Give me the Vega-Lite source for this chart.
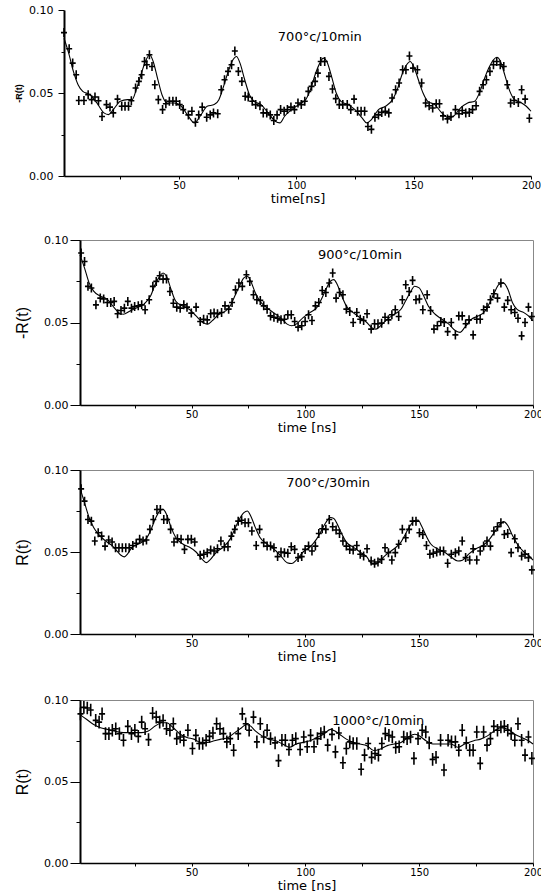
{
  "$schema": "https://vega.github.io/schema/vega-lite/v6.json",
  "background": "white",
  "padding": {"left": 14, "top": 4, "right": 0, "bottom": 0},
  "columns": 1,
  "align": "all",
  "spacing": 28,
  "config": {
    "view": {"stroke": "#666", "strokeWidth": 1},
    "axis": {"grid": false, "domainColor": "black", "tickColor": "black", "labelColor": "black", "titleColor": "black", "labelFont": "DejaVu Sans", "titleFont": "DejaVu Sans", "titleFontWeight": "normal", "labelFlush": false, "labelOverlap": false, "tickWidth": 1}
  },
  "datasets": {
    "p1": [{"t":1,"r":0.0864},{"t":3.2,"r":0.0767},{"t":4.7,"r":0.068},{"t":6.2,"r":0.061},{"t":7.3,"r":0.0455},{"t":9.5,"r":0.0455},{"t":11.3,"r":0.049},{"t":12.8,"r":0.046},{"t":14.2,"r":0.0476},{"t":15.7,"r":0.0453},{"t":17.2,"r":0.0358},{"t":19.1,"r":0.043},{"t":20.6,"r":0.0415},{"t":22,"r":0.038},{"t":23.8,"r":0.0463},{"t":25.6,"r":0.042},{"t":27,"r":0.042},{"t":28.5,"r":0.042},{"t":29.7,"r":0.0453},{"t":31.5,"r":0.053},{"t":32.9,"r":0.057},{"t":34.1,"r":0.061},{"t":35.3,"r":0.069},{"t":36.3,"r":0.067},{"t":37.4,"r":0.073},{"t":38.5,"r":0.066},{"t":39.7,"r":0.055},{"t":41.2,"r":0.046},{"t":43,"r":0.040},{"t":44.4,"r":0.0435},{"t":45.9,"r":0.045},{"t":47.4,"r":0.045},{"t":48.8,"r":0.045},{"t":50.3,"r":0.043},{"t":51.8,"r":0.040},{"t":54,"r":0.0368},{"t":55.5,"r":0.039},{"t":57,"r":0.0324},{"t":58.4,"r":0.0368},{"t":59.9,"r":0.0415},{"t":61.8,"r":0.0354},{"t":63.3,"r":0.0368},{"t":64.7,"r":0.038},{"t":66.5,"r":0.0375},{"t":68,"r":0.052},{"t":69.4,"r":0.058},{"t":70.9,"r":0.063},{"t":72.4,"r":0.067},{"t":73.8,"r":0.0753},{"t":75.3,"r":0.063},{"t":76.8,"r":0.057},{"t":78.2,"r":0.048},{"t":79.5,"r":0.0476},{"t":81.2,"r":0.045},{"t":82.7,"r":0.043},{"t":84.5,"r":0.0423},{"t":85.9,"r":0.038},{"t":87.4,"r":0.038},{"t":88.9,"r":0.0368},{"t":90.4,"r":0.0334},{"t":91.8,"r":0.0368},{"t":93.3,"r":0.040},{"t":94.8,"r":0.039},{"t":96.2,"r":0.040},{"t":97.7,"r":0.0415},{"t":99.2,"r":0.040},{"t":100.7,"r":0.044},{"t":102.1,"r":0.043},{"t":103.6,"r":0.045},{"t":105.1,"r":0.051},{"t":106.5,"r":0.054},{"t":108,"r":0.057},{"t":109.2,"r":0.062},{"t":110.4,"r":0.069},{"t":112.1,"r":0.069},{"t":113.9,"r":0.060},{"t":115.4,"r":0.0524},{"t":116.8,"r":0.0466},{"t":118.3,"r":0.043},{"t":119.8,"r":0.043},{"t":121.7,"r":0.043},{"t":123.2,"r":0.040},{"t":124.6,"r":0.0463},{"t":126.1,"r":0.039},{"t":127.6,"r":0.039},{"t":129.1,"r":0.039},{"t":130.5,"r":0.0298},{"t":132,"r":0.0281},{"t":133.5,"r":0.0354},{"t":135,"r":0.0368},{"t":136.4,"r":0.0383},{"t":137.9,"r":0.039},{"t":139.4,"r":0.038},{"t":140.8,"r":0.047},{"t":142.3,"r":0.052},{"t":143.8,"r":0.056},{"t":145.3,"r":0.064},{"t":146.7,"r":0.064},{"t":148.2,"r":0.0723},{"t":149.7,"r":0.065},{"t":151.6,"r":0.064},{"t":153.4,"r":0.056},{"t":155.1,"r":0.044},{"t":156.6,"r":0.0423},{"t":158.1,"r":0.041},{"t":159.6,"r":0.0435},{"t":161,"r":0.0435},{"t":162.5,"r":0.0362},{"t":164.4,"r":0.0344},{"t":165.9,"r":0.0358},{"t":167.8,"r":0.040},{"t":169.3,"r":0.0375},{"t":170.7,"r":0.0395},{"t":172.2,"r":0.038},{"t":173.7,"r":0.0383},{"t":175.1,"r":0.040},{"t":176.6,"r":0.0423},{"t":178.1,"r":0.051},{"t":179.6,"r":0.055},{"t":181,"r":0.058},{"t":182.5,"r":0.063},{"t":184,"r":0.067},{"t":185.4,"r":0.069},{"t":186.9,"r":0.067},{"t":188.4,"r":0.066},{"t":189.9,"r":0.055},{"t":191.3,"r":0.044},{"t":192.8,"r":0.0455},{"t":194.6,"r":0.0443},{"t":196,"r":0.052},{"t":197.5,"r":0.0463},{"t":199.3,"r":0.0348}],
    "f1": [{"t":1,"r":0.083},{"t":3,"r":0.074},{"t":5,"r":0.063},{"t":7,"r":0.055},{"t":9,"r":0.051},{"t":12,"r":0.049},{"t":15,"r":0.044},{"t":18,"r":0.038},{"t":20,"r":0.037},{"t":22,"r":0.040},{"t":25,"r":0.045},{"t":28,"r":0.046},{"t":30,"r":0.046},{"t":32,"r":0.053},{"t":34,"r":0.062},{"t":36,"r":0.070},{"t":37.5,"r":0.073},{"t":39,"r":0.069},{"t":41,"r":0.058},{"t":43,"r":0.048},{"t":45,"r":0.044},{"t":48,"r":0.044},{"t":51,"r":0.042},{"t":54,"r":0.036},{"t":56.5,"r":0.032},{"t":59,"r":0.036},{"t":62,"r":0.042},{"t":65,"r":0.043},{"t":67,"r":0.046},{"t":69,"r":0.054},{"t":71,"r":0.063},{"t":73,"r":0.070},{"t":74.5,"r":0.072},{"t":76,"r":0.068},{"t":78,"r":0.058},{"t":80,"r":0.049},{"t":82,"r":0.045},{"t":85,"r":0.043},{"t":88,"r":0.038},{"t":91,"r":0.033},{"t":93,"r":0.032},{"t":95,"r":0.036},{"t":98,"r":0.040},{"t":101,"r":0.043},{"t":104,"r":0.046},{"t":106,"r":0.052},{"t":108,"r":0.061},{"t":110,"r":0.068},{"t":111.5,"r":0.071},{"t":113,"r":0.069},{"t":115,"r":0.060},{"t":117,"r":0.050},{"t":119,"r":0.045},{"t":122,"r":0.043},{"t":125,"r":0.040},{"t":128,"r":0.035},{"t":130,"r":0.032},{"t":132,"r":0.034},{"t":135,"r":0.040},{"t":138,"r":0.042},{"t":141,"r":0.046},{"t":143,"r":0.052},{"t":145,"r":0.061},{"t":147,"r":0.067},{"t":148.5,"r":0.069},{"t":150,"r":0.066},{"t":152,"r":0.058},{"t":154,"r":0.050},{"t":156,"r":0.045},{"t":159,"r":0.043},{"t":162,"r":0.038},{"t":165,"r":0.035},{"t":167,"r":0.036},{"t":170,"r":0.041},{"t":173,"r":0.044},{"t":176,"r":0.045},{"t":178,"r":0.050},{"t":180,"r":0.058},{"t":182,"r":0.065},{"t":184,"r":0.070},{"t":185.5,"r":0.0715},{"t":187,"r":0.069},{"t":189,"r":0.060},{"t":191,"r":0.051},{"t":193,"r":0.046},{"t":196,"r":0.044},{"t":198,"r":0.042},{"t":200,"r":0.039}],
    "p2": [{"t":1.5,"r":0.0921},{"t":3,"r":0.087},{"t":4.5,"r":0.0719},{"t":6,"r":0.0709},{"t":8,"r":0.0607},{"t":9.9,"r":0.0648},{"t":11.4,"r":0.0642},{"t":13,"r":0.0621},{"t":14.5,"r":0.0621},{"t":16,"r":0.0628},{"t":17.5,"r":0.0553},{"t":19,"r":0.0573},{"t":20.5,"r":0.0587},{"t":22,"r":0.0628},{"t":23.6,"r":0.0587},{"t":25,"r":0.0597},{"t":26.6,"r":0.0601},{"t":28.1,"r":0.0607},{"t":29.6,"r":0.0577},{"t":31.4,"r":0.0638},{"t":33,"r":0.0719},{"t":34.5,"r":0.0749},{"t":36,"r":0.0783},{"t":37.5,"r":0.0763},{"t":39,"r":0.0763},{"t":40.5,"r":0.0688},{"t":42,"r":0.0617},{"t":43.5,"r":0.0593},{"t":45,"r":0.0587},{"t":46.6,"r":0.0607},{"t":48,"r":0.0593},{"t":49.9,"r":0.0557},{"t":52,"r":0.0593},{"t":53.8,"r":0.0506},{"t":55.3,"r":0.052},{"t":56.9,"r":0.0516},{"t":58.4,"r":0.0553},{"t":59.9,"r":0.0557},{"t":61.4,"r":0.0553},{"t":63.2,"r":0.0561},{"t":64.7,"r":0.0601},{"t":66.3,"r":0.0581},{"t":67.8,"r":0.0621},{"t":69.3,"r":0.0698},{"t":70.8,"r":0.0739},{"t":72.3,"r":0.0719},{"t":74.1,"r":0.0789},{"t":75.6,"r":0.0749},{"t":77.2,"r":0.0668},{"t":78.7,"r":0.0638},{"t":80.2,"r":0.0634},{"t":81.7,"r":0.0601},{"t":83.2,"r":0.0581},{"t":84.7,"r":0.054},{"t":86.2,"r":0.0532},{"t":87.8,"r":0.0526},{"t":89.3,"r":0.0516},{"t":90.8,"r":0.052},{"t":92.3,"r":0.0547},{"t":93.8,"r":0.0547},{"t":95.3,"r":0.0506},{"t":96.8,"r":0.0472},{"t":98.4,"r":0.048},{"t":99.9,"r":0.0506},{"t":101.4,"r":0.0547},{"t":102.9,"r":0.0512},{"t":104.4,"r":0.0601},{"t":105.9,"r":0.0621},{"t":107.4,"r":0.0694},{"t":109,"r":0.0682},{"t":110.5,"r":0.0739},{"t":112,"r":0.08},{"t":113.5,"r":0.0648},{"t":115,"r":0.0682},{"t":116.5,"r":0.0668},{"t":118,"r":0.0581},{"t":119.5,"r":0.0567},{"t":121,"r":0.05},{"t":122.6,"r":0.0561},{"t":124.1,"r":0.052},{"t":125.6,"r":0.0512},{"t":127.1,"r":0.0553},{"t":128.9,"r":0.046},{"t":130.4,"r":0.0492},{"t":131.9,"r":0.0492},{"t":133.5,"r":0.0496},{"t":135,"r":0.0532},{"t":136.5,"r":0.0516},{"t":138,"r":0.0547},{"t":139.5,"r":0.0577},{"t":141,"r":0.0536},{"t":142.6,"r":0.0638},{"t":144.1,"r":0.0729},{"t":145.6,"r":0.0688},{"t":147.1,"r":0.0755},{"t":148.6,"r":0.0638},{"t":150.1,"r":0.0642},{"t":151.6,"r":0.0577},{"t":153.5,"r":0.0668},{"t":155,"r":0.0573},{"t":156.5,"r":0.046},{"t":158,"r":0.048},{"t":159.5,"r":0.0506},{"t":161,"r":0.05},{"t":162.5,"r":0.0445},{"t":164.1,"r":0.05},{"t":165.9,"r":0.0425},{"t":167.4,"r":0.054},{"t":168.9,"r":0.054},{"t":170.4,"r":0.0492},{"t":171.9,"r":0.0516},{"t":173.7,"r":0.0425},{"t":175.3,"r":0.052},{"t":176.8,"r":0.052},{"t":178.3,"r":0.0577},{"t":179.8,"r":0.0593},{"t":181.3,"r":0.0638},{"t":182.8,"r":0.0674},{"t":184.4,"r":0.0648},{"t":185.9,"r":0.0739},{"t":187.4,"r":0.0593},{"t":188.9,"r":0.0634},{"t":190.4,"r":0.0577},{"t":192,"r":0.0561},{"t":193.4,"r":0.0526},{"t":195,"r":0.0419},{"t":196.5,"r":0.05},{"t":198,"r":0.0593},{"t":199.5,"r":0.0536}],
    "f2": [{"t":1,"r":0.091},{"t":3,"r":0.083},{"t":5,"r":0.074},{"t":7,"r":0.069},{"t":10,"r":0.066},{"t":13,"r":0.064},{"t":16,"r":0.059},{"t":18,"r":0.056},{"t":20,"r":0.055},{"t":23,"r":0.057},{"t":26,"r":0.059},{"t":29,"r":0.061},{"t":32,"r":0.066},{"t":34,"r":0.073},{"t":36,"r":0.078},{"t":37.5,"r":0.080},{"t":39,"r":0.078},{"t":41,"r":0.070},{"t":43,"r":0.063},{"t":46,"r":0.060},{"t":49,"r":0.058},{"t":52,"r":0.054},{"t":55,"r":0.050},{"t":57,"r":0.049},{"t":59,"r":0.051},{"t":62,"r":0.055},{"t":65,"r":0.057},{"t":67,"r":0.060},{"t":69,"r":0.066},{"t":71,"r":0.072},{"t":73,"r":0.077},{"t":74.5,"r":0.078},{"t":76,"r":0.075},{"t":78,"r":0.068},{"t":80,"r":0.063},{"t":83,"r":0.059},{"t":86,"r":0.056},{"t":89,"r":0.053},{"t":92,"r":0.049},{"t":94,"r":0.048},{"t":96,"r":0.049},{"t":99,"r":0.053},{"t":102,"r":0.056},{"t":105,"r":0.059},{"t":107,"r":0.064},{"t":109,"r":0.070},{"t":111,"r":0.075},{"t":112.5,"r":0.076},{"t":114,"r":0.073},{"t":116,"r":0.066},{"t":118,"r":0.060},{"t":121,"r":0.056},{"t":124,"r":0.053},{"t":127,"r":0.050},{"t":129,"r":0.047},{"t":131,"r":0.046},{"t":133,"r":0.048},{"t":136,"r":0.052},{"t":139,"r":0.055},{"t":142,"r":0.058},{"t":144,"r":0.063},{"t":146,"r":0.068},{"t":148,"r":0.072},{"t":150,"r":0.071},{"t":152,"r":0.066},{"t":154,"r":0.060},{"t":157,"r":0.055},{"t":160,"r":0.052},{"t":163,"r":0.049},{"t":166,"r":0.045},{"t":168,"r":0.044},{"t":170,"r":0.047},{"t":173,"r":0.052},{"t":176,"r":0.054},{"t":179,"r":0.057},{"t":181,"r":0.062},{"t":183,"r":0.068},{"t":185,"r":0.073},{"t":187,"r":0.074},{"t":189,"r":0.070},{"t":191,"r":0.062},{"t":193,"r":0.058},{"t":196,"r":0.056},{"t":198,"r":0.054},{"t":200,"r":0.051}],
    "p3": [{"t":1.5,"r":0.0885},{"t":3,"r":0.081},{"t":4.5,"r":0.0698},{"t":6,"r":0.0688},{"t":7.5,"r":0.0567},{"t":9,"r":0.0617},{"t":10.5,"r":0.0597},{"t":12,"r":0.0536},{"t":13.6,"r":0.0573},{"t":15.1,"r":0.0561},{"t":16.6,"r":0.0526},{"t":18.1,"r":0.0526},{"t":19.6,"r":0.0526},{"t":21.1,"r":0.0526},{"t":22.6,"r":0.0526},{"t":24.2,"r":0.054},{"t":25.7,"r":0.0553},{"t":27.2,"r":0.0577},{"t":28.7,"r":0.0567},{"t":30.2,"r":0.0573},{"t":31.7,"r":0.0638},{"t":33.2,"r":0.0698},{"t":34.8,"r":0.0759},{"t":36.3,"r":0.0759},{"t":37.8,"r":0.0698},{"t":39.3,"r":0.0698},{"t":40.8,"r":0.0638},{"t":42.3,"r":0.0561},{"t":43.8,"r":0.0581},{"t":45.4,"r":0.0577},{"t":46.9,"r":0.0516},{"t":48.4,"r":0.0577},{"t":49.9,"r":0.0577},{"t":51.4,"r":0.0561},{"t":53.8,"r":0.048},{"t":55.4,"r":0.0486},{"t":56.9,"r":0.0496},{"t":58.4,"r":0.0512},{"t":59.9,"r":0.0506},{"t":61.4,"r":0.052},{"t":62.9,"r":0.0567},{"t":64.4,"r":0.0532},{"t":66,"r":0.0532},{"t":67.5,"r":0.0597},{"t":69,"r":0.0638},{"t":70.5,"r":0.0688},{"t":72,"r":0.0694},{"t":73.5,"r":0.0678},{"t":75,"r":0.0678},{"t":76.5,"r":0.0628},{"t":78.4,"r":0.054},{"t":79.9,"r":0.0638},{"t":81.7,"r":0.0557},{"t":83.2,"r":0.0536},{"t":84.7,"r":0.0536},{"t":86.2,"r":0.0526},{"t":87.8,"r":0.0472},{"t":89.3,"r":0.05},{"t":90.8,"r":0.0496},{"t":92.3,"r":0.0492},{"t":93.8,"r":0.0532},{"t":95.3,"r":0.0516},{"t":96.8,"r":0.0466},{"t":98.4,"r":0.0472},{"t":99.9,"r":0.0516},{"t":101.4,"r":0.0536},{"t":102.9,"r":0.0506},{"t":104.4,"r":0.0536},{"t":105.9,"r":0.0613},{"t":107.4,"r":0.0642},{"t":109,"r":0.0638},{"t":110.5,"r":0.0698},{"t":112,"r":0.0654},{"t":113.5,"r":0.0634},{"t":115,"r":0.0613},{"t":116.5,"r":0.0567},{"t":118,"r":0.0536},{"t":119.5,"r":0.0516},{"t":121,"r":0.0512},{"t":122.6,"r":0.054},{"t":124.1,"r":0.0486},{"t":125.6,"r":0.0476},{"t":127.1,"r":0.052},{"t":128.9,"r":0.0445},{"t":130.4,"r":0.0431},{"t":131.9,"r":0.0439},{"t":133.5,"r":0.0455},{"t":135,"r":0.0526},{"t":136.5,"r":0.0496},{"t":138,"r":0.0451},{"t":139.5,"r":0.0496},{"t":141,"r":0.0547},{"t":142.6,"r":0.0638},{"t":144.1,"r":0.0587},{"t":145.6,"r":0.0638},{"t":147.1,"r":0.0688},{"t":148.6,"r":0.0688},{"t":150.1,"r":0.0617},{"t":151.6,"r":0.0607},{"t":153.2,"r":0.054},{"t":154.7,"r":0.0486},{"t":156.2,"r":0.0492},{"t":157.7,"r":0.05},{"t":159.2,"r":0.0506},{"t":160.7,"r":0.0506},{"t":162.5,"r":0.0431},{"t":164.1,"r":0.0486},{"t":165.9,"r":0.0496},{"t":167.4,"r":0.0506},{"t":168.9,"r":0.0567},{"t":170.4,"r":0.0466},{"t":172.2,"r":0.0451},{"t":173.7,"r":0.052},{"t":175.3,"r":0.0451},{"t":176.8,"r":0.0506},{"t":178.3,"r":0.0536},{"t":179.8,"r":0.0567},{"t":181.3,"r":0.0536},{"t":182.8,"r":0.0628},{"t":184.4,"r":0.0654},{"t":185.9,"r":0.0678},{"t":187.4,"r":0.0607},{"t":188.9,"r":0.0613},{"t":190.4,"r":0.0496},{"t":192,"r":0.0581},{"t":193.4,"r":0.0526},{"t":195,"r":0.0476},{"t":196.5,"r":0.0486},{"t":198,"r":0.0466},{"t":199.5,"r":0.0391}],
    "f3": [{"t":1,"r":0.089},{"t":3,"r":0.080},{"t":5,"r":0.071},{"t":7,"r":0.065},{"t":9,"r":0.061},{"t":12,"r":0.057},{"t":15,"r":0.054},{"t":17,"r":0.051},{"t":19,"r":0.048},{"t":20.5,"r":0.047},{"t":22,"r":0.049},{"t":24,"r":0.053},{"t":27,"r":0.055},{"t":30,"r":0.058},{"t":32,"r":0.063},{"t":34,"r":0.070},{"t":36,"r":0.075},{"t":37.5,"r":0.076},{"t":39,"r":0.073},{"t":41,"r":0.065},{"t":43,"r":0.059},{"t":46,"r":0.055},{"t":49,"r":0.053},{"t":52,"r":0.050},{"t":55,"r":0.045},{"t":56.5,"r":0.0435},{"t":58,"r":0.045},{"t":61,"r":0.050},{"t":64,"r":0.053},{"t":67,"r":0.058},{"t":69,"r":0.064},{"t":71,"r":0.070},{"t":73,"r":0.074},{"t":74.5,"r":0.075},{"t":76,"r":0.072},{"t":78,"r":0.065},{"t":80,"r":0.059},{"t":83,"r":0.055},{"t":86,"r":0.052},{"t":89,"r":0.048},{"t":92,"r":0.0435},{"t":94,"r":0.043},{"t":96,"r":0.045},{"t":99,"r":0.050},{"t":102,"r":0.053},{"t":105,"r":0.058},{"t":107,"r":0.063},{"t":109,"r":0.068},{"t":111,"r":0.071},{"t":112.5,"r":0.0705},{"t":114,"r":0.067},{"t":116,"r":0.061},{"t":118,"r":0.056},{"t":121,"r":0.053},{"t":124,"r":0.050},{"t":127,"r":0.047},{"t":129.5,"r":0.0425},{"t":131,"r":0.0425},{"t":133,"r":0.045},{"t":136,"r":0.049},{"t":139,"r":0.052},{"t":142,"r":0.056},{"t":144,"r":0.061},{"t":146,"r":0.066},{"t":148,"r":0.069},{"t":149.5,"r":0.0695},{"t":151,"r":0.066},{"t":153,"r":0.060},{"t":155,"r":0.055},{"t":158,"r":0.052},{"t":161,"r":0.050},{"t":164,"r":0.047},{"t":167,"r":0.0445},{"t":169,"r":0.045},{"t":172,"r":0.049},{"t":175,"r":0.052},{"t":178,"r":0.054},{"t":181,"r":0.058},{"t":183,"r":0.062},{"t":185,"r":0.066},{"t":187,"r":0.0685},{"t":189,"r":0.066},{"t":191,"r":0.060},{"t":193,"r":0.055},{"t":196,"r":0.050},{"t":198,"r":0.048},{"t":200,"r":0.045}],
    "p4": [{"t":1.2,"r":0.0915},{"t":2.7,"r":0.0955},{"t":4.2,"r":0.0951},{"t":5.7,"r":0.0939},{"t":7.9,"r":0.0875},{"t":9.4,"r":0.0864},{"t":10.7,"r":0.0915},{"t":12.2,"r":0.0794},{"t":13.7,"r":0.0794},{"t":15.2,"r":0.0814},{"t":16.7,"r":0.0824},{"t":18.3,"r":0.0794},{"t":20.1,"r":0.0753},{"t":22,"r":0.0838},{"t":23.6,"r":0.0794},{"t":25.1,"r":0.0814},{"t":26.6,"r":0.0777},{"t":28.1,"r":0.0864},{"t":29.6,"r":0.0824},{"t":31.1,"r":0.0757},{"t":32.9,"r":0.0919},{"t":34.5,"r":0.0895},{"t":36,"r":0.0864},{"t":37.5,"r":0.0874},{"t":39,"r":0.0824},{"t":40.5,"r":0.0814},{"t":42,"r":0.0854},{"t":43.5,"r":0.0763},{"t":45,"r":0.0773},{"t":46.6,"r":0.0753},{"t":48.4,"r":0.0814},{"t":50.4,"r":0.0702},{"t":51.9,"r":0.0783},{"t":53.4,"r":0.0733},{"t":54.9,"r":0.0733},{"t":56.4,"r":0.0753},{"t":57.9,"r":0.0777},{"t":59.4,"r":0.0798},{"t":61,"r":0.0854},{"t":62.5,"r":0.0824},{"t":64,"r":0.0794},{"t":65.5,"r":0.0743},{"t":67,"r":0.0763},{"t":68.5,"r":0.0692},{"t":70.5,"r":0.0794},{"t":72.3,"r":0.0915},{"t":73.8,"r":0.0854},{"t":75.3,"r":0.0814},{"t":77.2,"r":0.0895},{"t":78.7,"r":0.0743},{"t":80.2,"r":0.0854},{"t":81.7,"r":0.0773},{"t":83.2,"r":0.0814},{"t":84.7,"r":0.0763},{"t":86.7,"r":0.0737},{"t":88.2,"r":0.0628},{"t":89.7,"r":0.0753},{"t":91.2,"r":0.0753},{"t":92.8,"r":0.0696},{"t":94.3,"r":0.0753},{"t":95.8,"r":0.0763},{"t":97.7,"r":0.0696},{"t":99.3,"r":0.0773},{"t":100.8,"r":0.0713},{"t":102.3,"r":0.0783},{"t":103.8,"r":0.0713},{"t":105.3,"r":0.0763},{"t":106.8,"r":0.0794},{"t":108.3,"r":0.0804},{"t":109.8,"r":0.0723},{"t":111.7,"r":0.0789},{"t":113.2,"r":0.0682},{"t":114.7,"r":0.0798},{"t":116.5,"r":0.0615},{"t":118,"r":0.0702},{"t":119.5,"r":0.0743},{"t":121,"r":0.0733},{"t":122.6,"r":0.0733},{"t":124.5,"r":0.0575},{"t":126,"r":0.0662},{"t":127.6,"r":0.0733},{"t":129.1,"r":0.0648},{"t":130.6,"r":0.0672},{"t":132.1,"r":0.0662},{"t":133.6,"r":0.0733},{"t":135.1,"r":0.0794},{"t":136.7,"r":0.0783},{"t":138.2,"r":0.0773},{"t":139.7,"r":0.0709},{"t":141.2,"r":0.0713},{"t":143.2,"r":0.0773},{"t":144.7,"r":0.0763},{"t":146.2,"r":0.0773},{"t":147.7,"r":0.0642},{"t":149.5,"r":0.0763},{"t":151.3,"r":0.0814},{"t":152.9,"r":0.0804},{"t":154.4,"r":0.0737},{"t":155.9,"r":0.0636},{"t":157.4,"r":0.0648},{"t":159.4,"r":0.0753},{"t":160.9,"r":0.0571},{"t":162.7,"r":0.0753},{"t":164.2,"r":0.0743},{"t":165.9,"r":0.0743},{"t":167.4,"r":0.0692},{"t":168.9,"r":0.0814},{"t":170.7,"r":0.0737},{"t":172.2,"r":0.0692},{"t":173.7,"r":0.0692},{"t":175.3,"r":0.0804},{"t":176.8,"r":0.0611},{"t":178.3,"r":0.0804},{"t":179.8,"r":0.0723},{"t":181.3,"r":0.0763},{"t":182.8,"r":0.0838},{"t":184.4,"r":0.0814},{"t":185.9,"r":0.0834},{"t":187.4,"r":0.0838},{"t":188.9,"r":0.0814},{"t":190.4,"r":0.0794},{"t":192,"r":0.0753},{"t":193.4,"r":0.0854},{"t":195,"r":0.0753},{"t":196.5,"r":0.0662},{"t":198,"r":0.0773},{"t":199.5,"r":0.0642}],
    "f4": [{"t":1,"r":0.091},{"t":4,"r":0.088},{"t":7,"r":0.085},{"t":10,"r":0.083},{"t":13,"r":0.082},{"t":16,"r":0.081},{"t":20,"r":0.080},{"t":24,"r":0.080},{"t":28,"r":0.080},{"t":31,"r":0.081},{"t":34,"r":0.084},{"t":37,"r":0.086},{"t":39,"r":0.086},{"t":42,"r":0.083},{"t":45,"r":0.079},{"t":48,"r":0.077},{"t":51,"r":0.076},{"t":54,"r":0.074},{"t":57,"r":0.074},{"t":60,"r":0.075},{"t":63,"r":0.076},{"t":66,"r":0.077},{"t":69,"r":0.080},{"t":72,"r":0.083},{"t":74,"r":0.085},{"t":76,"r":0.084},{"t":78,"r":0.081},{"t":81,"r":0.078},{"t":84,"r":0.076},{"t":87,"r":0.075},{"t":90,"r":0.073},{"t":93,"r":0.071},{"t":96,"r":0.073},{"t":99,"r":0.074},{"t":102,"r":0.075},{"t":105,"r":0.077},{"t":108,"r":0.079},{"t":111,"r":0.082},{"t":113,"r":0.081},{"t":115,"r":0.079},{"t":118,"r":0.076},{"t":121,"r":0.074},{"t":124,"r":0.073},{"t":127,"r":0.072},{"t":130,"r":0.069},{"t":133,"r":0.070},{"t":136,"r":0.072},{"t":139,"r":0.073},{"t":142,"r":0.074},{"t":145,"r":0.077},{"t":148,"r":0.079},{"t":150,"r":0.078},{"t":153,"r":0.075},{"t":156,"r":0.073},{"t":160,"r":0.073},{"t":164,"r":0.073},{"t":167,"r":0.071},{"t":170,"r":0.073},{"t":174,"r":0.075},{"t":177,"r":0.076},{"t":180,"r":0.078},{"t":183,"r":0.081},{"t":186,"r":0.083},{"t":189,"r":0.082},{"t":192,"r":0.079},{"t":195,"r":0.077},{"t":198,"r":0.075},{"t":200,"r":0.073}]
  },
  "concat": [
    {
      "width": 451, "height": 166,
      "view": {"stroke": null},
      "encoding": {
        "x": {"field": "t", "type": "quantitative", "scale": {"domain": [1, 200], "range": [-16, 451], "nice": false, "zero": false},
          "axis": {"title": "time[ns]", "values": [25,50,75,100,125,150,175,200], "labelExpr": "datum.value % 50 == 0 ? datum.label : ''", "tickSize": 3, "labelPadding": 1, "labelFontSize": 10, "titleFontSize": 13, "titlePadding": 2, "domainWidth": 1.5}},
        "y": {"field": "r", "type": "quantitative", "scale": {"domain": [0, 0.1], "nice": false, "zero": false},
          "axis": {"title": "-R(t)", "offset": 16, "values": [0,0.025,0.05,0.075,0.1], "labelExpr": "datum.value == 0.025 || datum.value == 0.075 ? '' : format(datum.value, '.2f')", "tickSize": {"condition": {"test": "datum.value == 0.025 || datum.value == 0.075", "value": 3}, "value": 6}, "labelPadding": 5, "labelFontSize": 11, "titleFont": "Liberation Sans", "titleFontSize": 9, "titleFontWeight": "bold", "titlePadding": 5, "domainWidth": 2}}
      },
      "layer": [
        {"data": {"values": [{}]}, "mark": {"type": "rule", "color": "#222", "strokeWidth": 1}, "encoding": {"x": {"datum": 1, "type": "quantitative"}, "x2": {"datum": 200}, "y": {"datum": 0.1, "type": "quantitative"}}},
        {"data": {"values": [{}]}, "mark": {"type": "rule", "color": "#222", "strokeWidth": 1}, "encoding": {"x": {"datum": 200, "type": "quantitative"}, "y": {"datum": 0, "type": "quantitative"}, "y2": {"datum": 0.1}}},
        {"data": {"name": "f1"}, "mark": {"type": "line", "color": "black", "strokeWidth": 1.1, "interpolate": "monotone"}},
        {"data": {"name": "p1"}, "mark": {"type": "point", "shape": "M-1,0H1M0,-1.5V1.5", "filled": false, "stroke": "black", "strokeWidth": 1.6, "size": 36, "opacity": 1}},
        {"data": {"values": [{"t": 110, "r": 0.0837, "label": "700°c/10min"}]}, "mark": {"type": "text", "font": "DejaVu Sans", "fontSize": 13, "color": "black"}, "encoding": {"text": {"field": "label"}}}
      ]
    },
    {
      "width": 453, "height": 165,
      "view": {"stroke": "#888"},
      "encoding": {
        "x": {"field": "t", "type": "quantitative", "scale": {"domain": [1, 200], "nice": false, "zero": false},
          "axis": {"title": "time [ns]", "values": [25,50,75,100,125,150,175,200], "labelExpr": "datum.value % 50 == 0 ? datum.label : ''", "tickSize": 3, "labelPadding": 1, "labelFontSize": 10, "titleFontSize": 13, "titlePadding": 2, "domainWidth": 1.5}},
        "y": {"field": "r", "type": "quantitative", "scale": {"domain": [0, 0.1], "nice": false, "zero": false},
          "axis": {"title": "-R(t)", "values": [0,0.025,0.05,0.075,0.1], "labelExpr": "datum.value == 0.025 || datum.value == 0.075 ? '' : format(datum.value, '.2f')", "tickSize": {"condition": {"test": "datum.value == 0.025 || datum.value == 0.075", "value": 4}, "value": 10}, "labelPadding": 2, "labelFontSize": 11, "titleFont": "Liberation Sans Narrow, Liberation Sans", "titleFontSize": 16, "titlePadding": 13, "domainWidth": 2}}
      },
      "layer": [
        {"data": {"name": "f2"}, "mark": {"type": "line", "color": "black", "strokeWidth": 1.1, "interpolate": "monotone"}},
        {"data": {"name": "p2"}, "mark": {"type": "point", "shape": "M-1,0H1M0,-1.5V1.5", "filled": false, "stroke": "black", "strokeWidth": 1.6, "size": 36, "opacity": 1}},
        {"data": {"values": [{"t": 124, "r": 0.0909, "label": "900°c/10min"}]}, "mark": {"type": "text", "font": "DejaVu Sans", "fontSize": 13, "color": "black"}, "encoding": {"text": {"field": "label"}}}
      ]
    },
    {
      "width": 453, "height": 164,
      "view": {"stroke": "#888"},
      "encoding": {
        "x": {"field": "t", "type": "quantitative", "scale": {"domain": [1, 200], "nice": false, "zero": false},
          "axis": {"title": "time [ns]", "values": [25,50,75,100,125,150,175,200], "labelExpr": "datum.value % 50 == 0 ? datum.label : ''", "tickSize": 3, "labelPadding": 1, "labelFontSize": 10, "titleFontSize": 13, "titlePadding": 2, "domainWidth": 1.5}},
        "y": {"field": "r", "type": "quantitative", "scale": {"domain": [0, 0.1], "nice": false, "zero": false},
          "axis": {"title": "R(t)", "values": [0,0.025,0.05,0.075,0.1], "labelExpr": "datum.value == 0.025 || datum.value == 0.075 ? '' : format(datum.value, '.2f')", "tickSize": {"condition": {"test": "datum.value == 0.025 || datum.value == 0.075", "value": 4}, "value": 10}, "labelPadding": 2, "labelFontSize": 11, "titleFont": "Liberation Sans Narrow, Liberation Sans", "titleFontSize": 16, "titlePadding": 13, "domainWidth": 2}}
      },
      "layer": [
        {"data": {"name": "f3"}, "mark": {"type": "line", "color": "black", "strokeWidth": 1.1, "interpolate": "monotone"}},
        {"data": {"name": "p3"}, "mark": {"type": "point", "shape": "M-1,0H1M0,-1.5V1.5", "filled": false, "stroke": "black", "strokeWidth": 1.6, "size": 36, "opacity": 1}},
        {"data": {"values": [{"t": 110, "r": 0.0923, "label": "700°c/30min"}]}, "mark": {"type": "text", "font": "DejaVu Sans", "fontSize": 13, "color": "black"}, "encoding": {"text": {"field": "label"}}}
      ]
    },
    {
      "width": 453, "height": 163,
      "view": {"stroke": "#888"},
      "encoding": {
        "x": {"field": "t", "type": "quantitative", "scale": {"domain": [1, 200], "nice": false, "zero": false},
          "axis": {"title": "time [ns]", "values": [25,50,75,100,125,150,175,200], "labelExpr": "datum.value % 50 == 0 ? datum.label : ''", "tickSize": 3, "labelPadding": 1, "labelFontSize": 10, "titleFontSize": 13, "titlePadding": 2, "domainWidth": 1.5}},
        "y": {"field": "r", "type": "quantitative", "scale": {"domain": [0, 0.1], "nice": false, "zero": false},
          "axis": {"title": "R(t)", "values": [0,0.025,0.05,0.075,0.1], "labelExpr": "datum.value == 0.025 || datum.value == 0.075 ? '' : format(datum.value, '.2f')", "tickSize": {"condition": {"test": "datum.value == 0.025 || datum.value == 0.075", "value": 4}, "value": 10}, "labelPadding": 2, "labelFontSize": 11, "titleFont": "Liberation Sans Narrow, Liberation Sans", "titleFontSize": 16, "titlePadding": 13, "domainWidth": 2}}
      },
      "layer": [
        {"data": {"name": "f4"}, "mark": {"type": "line", "color": "black", "strokeWidth": 1.1, "interpolate": "monotone"}},
        {"data": {"name": "p4"}, "mark": {"type": "point", "shape": "M-1,0H1M0,-2.1V2.1", "filled": false, "stroke": "black", "strokeWidth": 1.6, "size": 36, "opacity": 1}},
        {"data": {"values": [{"t": 132, "r": 0.0871, "label": "1000°c/10min"}]}, "mark": {"type": "text", "font": "DejaVu Sans", "fontSize": 13, "color": "black"}, "encoding": {"text": {"field": "label"}}}
      ]
    }
  ]
}
